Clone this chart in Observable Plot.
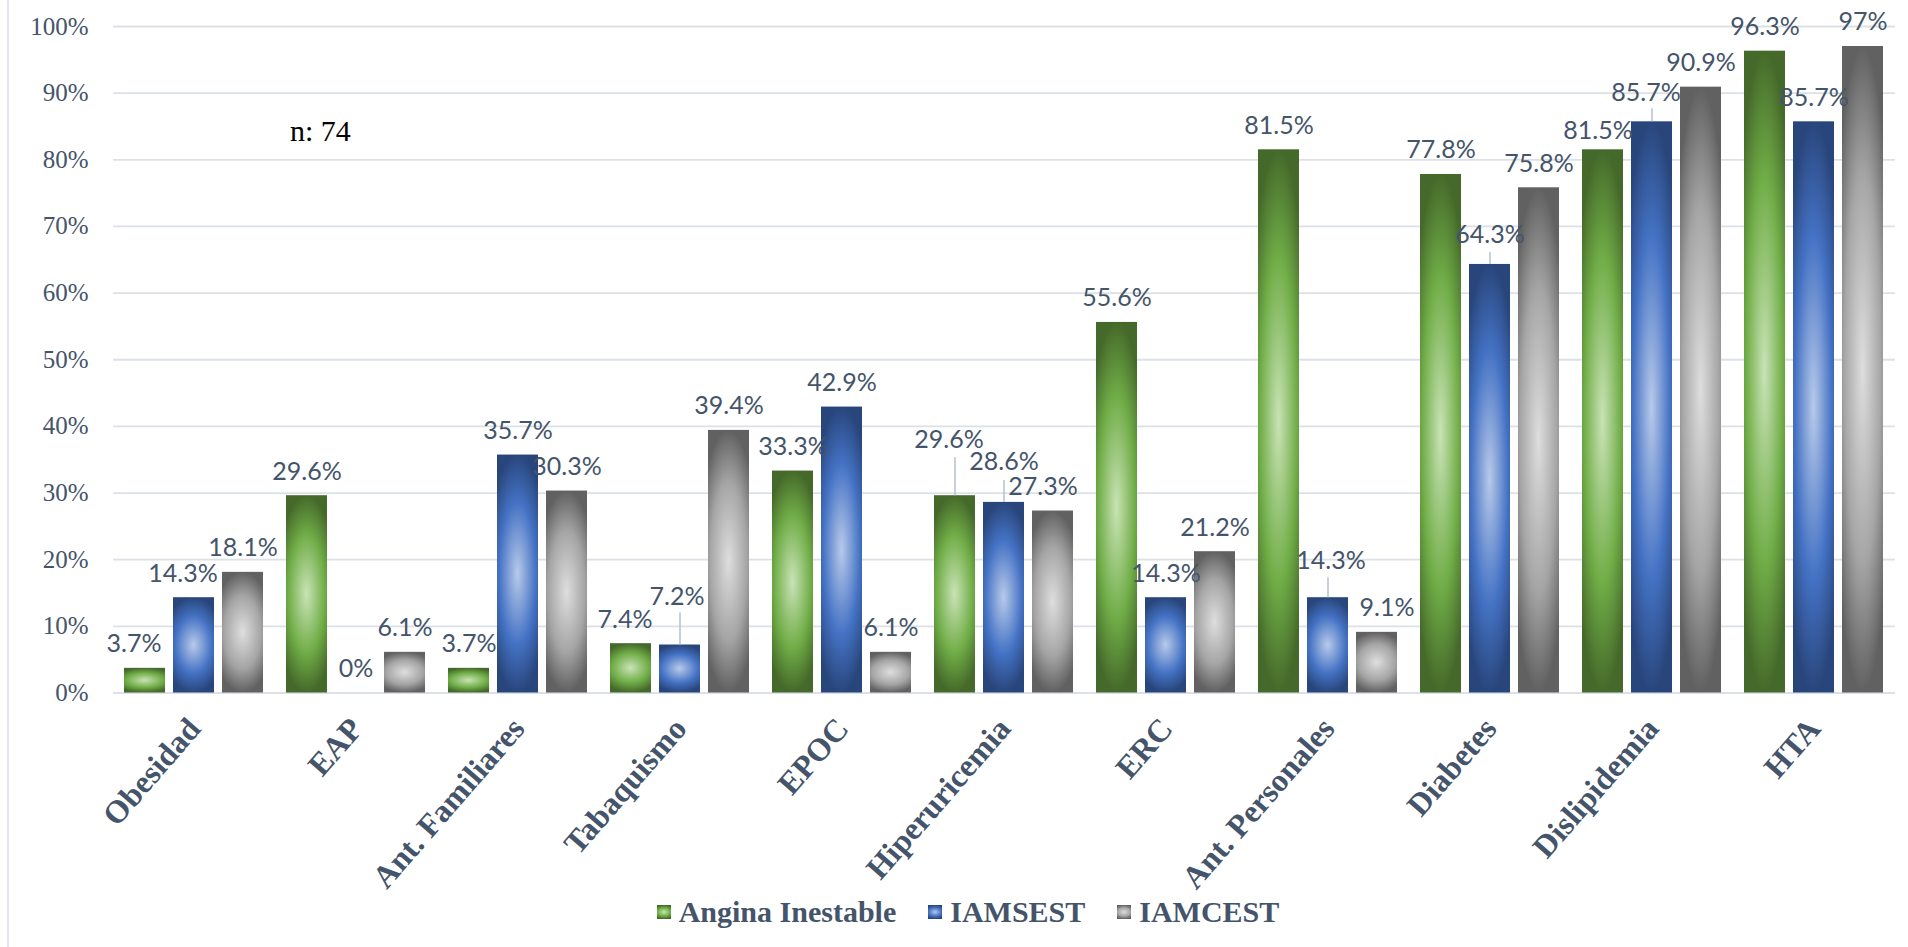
<!DOCTYPE html>
<html>
<head>
<meta charset="utf-8">
<script src="https://cdn.jsdelivr.net/npm/d3@7"></script>
<script src="https://cdn.jsdelivr.net/npm/@observablehq/plot@0.6"></script>
<style>
  html, body { margin: 0; padding: 0; background: #fff; overflow: hidden; }
  #wrap { position: relative; width: 1908px; height: 947px; }
  #frame { position: absolute; left: 7px; top: 0; width: 2px; height: 947px; background: #E3E6EA; }
  #chart svg { display: block; }
  #note { position: absolute; left: 290px; top: 113px; line-height: 36px; font-family: "Liberation Serif", "Times New Roman", serif; font-size: 30px; color: #000; }
  #legend { position: absolute; left: 0; top: 895px; width: 1908px; }
  #legend .lg-swatches { justify-content: center !important; padding-left: 60px; margin: 0 !important; }
  #legend .lg-swatch { margin-right: 32px !important; }
  #legend .lg-swatch > svg { margin-right: 8px !important; }
</style>
</head>
<body>
<div id="wrap">
  <div id="frame"></div>
  <div id="chart"></div>
  <div id="note">n: 74</div>
  <div id="legend"></div>
</div>
<script>
const categories = ["Obesidad", "EAP", "Ant. Familiares", "Tabaquismo", "EPOC", "Hiperuricemia", "ERC", "Ant. Personales", "Diabetes", "Dislipidemia", "HTA"];
const series = ["Angina Inestable", "IAMSEST", "IAMCEST"];
const angina  = [3.7, 29.6, 3.7, 7.4, 33.3, 29.6, 55.6, 81.5, 77.8, 81.5, 96.3];
const iamsest = [14.3, 0, 35.7, 7.2, 42.9, 28.6, 14.3, 14.3, 64.3, 85.7, 85.7];
const iamcest = [18.1, 6.1, 30.3, 39.4, 6.1, 27.3, 21.2, 9.1, 75.8, 90.9, 97];
const yTicks = [0, 10, 20, 30, 40, 50, 60, 70, 80, 90, 100];

// Label placement tweaks (pixels) mirroring the reference's shifted data labels,
// with the length of their leader lines where the reference draws one.
const labelNudges = [
  {cat: "Obesidad", series: "Angina Inestable", dx: -11, dy: 0, leader: 0},
  {cat: "Obesidad", series: "IAMSEST", dx: -11, dy: 0, leader: 0},
  {cat: "Tabaquismo", series: "Angina Inestable", dx: -6, dy: 0, leader: 0},
  {cat: "Tabaquismo", series: "IAMSEST", dx: -3, dy: -24, leader: 32},
  {cat: "Hiperuricemia", series: "Angina Inestable", dx: -6, dy: -32, leader: 38},
  {cat: "Hiperuricemia", series: "IAMSEST", dx: 0, dy: -16, leader: 22},
  {cat: "Hiperuricemia", series: "IAMCEST", dx: -10, dy: 0, leader: 0},
  {cat: "Ant. Personales", series: "IAMSEST", dx: 3, dy: -13, leader: 20},
  {cat: "Ant. Personales", series: "IAMCEST", dx: 10, dy: 0, leader: 0},
  {cat: "Diabetes", series: "IAMSEST", dx: 0, dy: -5, leader: 12},
  {cat: "Dislipidemia", series: "Angina Inestable", dx: -5, dy: 5, leader: 0},
  {cat: "Dislipidemia", series: "IAMSEST", dx: -6, dy: -5, leader: 13}
];

const valuesBySeries = [angina, iamsest, iamcest];
const data = [];
categories.forEach((c, i) => {
  series.forEach((s, j) => data.push({cat: c, series: s, value: valuesBySeries[j][i]}));
});
const nudgeOf = d => labelNudges.find(n => n.cat === d.cat && n.series === d.series);

const gradIds = ["gGreen", "gBlue", "gGray"];
const gradColors = [
  ["#C9E3B6", "#70AD47", "#45692A"],
  ["#B8CAEA", "#4472C4", "#29467C"],
  ["#DEDEDE", "#A5A5A5", "#616161"]
];

const textColor = "#44546A";
const serif = "'Liberation Serif', 'Times New Roman', serif";
const labelFont = "Lato, 'Open Sans', sans-serif";
const labelSize = 25;

const labelMarks = [];
labelMarks.push(Plot.text(data.filter(d => !nudgeOf(d)), {
  fx: "cat", x: "series", y: "value", text: d => d.value + "%",
  dy: -24, lineAnchor: "middle", fontSize: labelSize, fontFamily: labelFont, fill: textColor
}));
data.filter(d => nudgeOf(d)).forEach(d => {
  const n = nudgeOf(d);
  if (n.leader > 0) {
    labelMarks.push(Plot.ruleX([d], {
      fx: "cat", x: "series", y1: "value", y2: "value",
      insetTop: 0, insetBottom: n.leader, stroke: "#B4C0CF", strokeWidth: 1.5
    }));
  }
  labelMarks.push(Plot.text([d], {
    fx: "cat", x: "series", y: "value", text: d => d.value + "%",
    dx: n.dx, dy: -24 + n.dy, lineAnchor: "middle", fontSize: labelSize, fontFamily: labelFont, fill: textColor
  }));
});

const chart = Plot.plot({
  width: 1908,
  height: 870,
  marginTop: 26,
  marginBottom: 177.5,
  marginLeft: 110,
  marginRight: 11,
  fx: {domain: categories, padding: 0, label: null},
  x: {domain: series, paddingInner: 0.16, paddingOuter: 0.205, axis: null},
  y: {domain: [0, 100], label: null},
  color: {type: "ordinal", domain: series, range: gradIds.map(id => `url(#${id})`)},
  style: {fontFamily: serif, background: "white", overflow: "visible"},
  marks: [
    Plot.gridY(yTicks, {stroke: "#DCE0E7", strokeOpacity: 1, strokeWidth: 1.8}),
    Plot.axisY(yTicks, {
      tickSize: 0, tickPadding: 25, fontSize: 25, fontFamily: serif,
      fill: textColor, tickFormat: d => d + "%", label: null
    }),
    Plot.axisFx({
      anchor: "bottom", tickSize: 0, tickPadding: 30, tickRotate: -49,
      fontSize: 32, fontWeight: "bold", fontFamily: serif, fill: textColor,
      textAnchor: "end", label: null
    }),
    Plot.barY(data, {fx: "cat", x: "series", y: "value", fill: "series"}),
    ...labelMarks
  ]
});

// gradient definitions referenced by the bars' fills
const defs = d3.select(chart).insert("defs", ":first-child");
gradIds.forEach((id, k) => {
  const g = defs.append("radialGradient")
    .attr("id", id)
    .attr("cx", 0.5).attr("cy", 0.5).attr("r", 0.5)
    .attr("gradientTransform", "translate(0.5,0.5) scale(1.5,1) translate(-0.5,-0.5)");
  g.append("stop").attr("offset", 0).attr("stop-color", gradColors[k][0]);
  g.append("stop").attr("offset", 0.6).attr("stop-color", gradColors[k][1]);
  g.append("stop").attr("offset", 1).attr("stop-color", gradColors[k][2]);
});

document.getElementById("chart").appendChild(chart);

const legend = Plot.legend({
  color: {type: "ordinal", domain: series, range: gradIds.map(id => `url(#${id})`)},
  legend: "swatches",
  swatchSize: 14,
  className: "lg",
  style: {fontFamily: serif, fontSize: "30px", fontWeight: "bold", color: textColor}
});
document.getElementById("legend").appendChild(legend);
</script>
</body>
</html>
